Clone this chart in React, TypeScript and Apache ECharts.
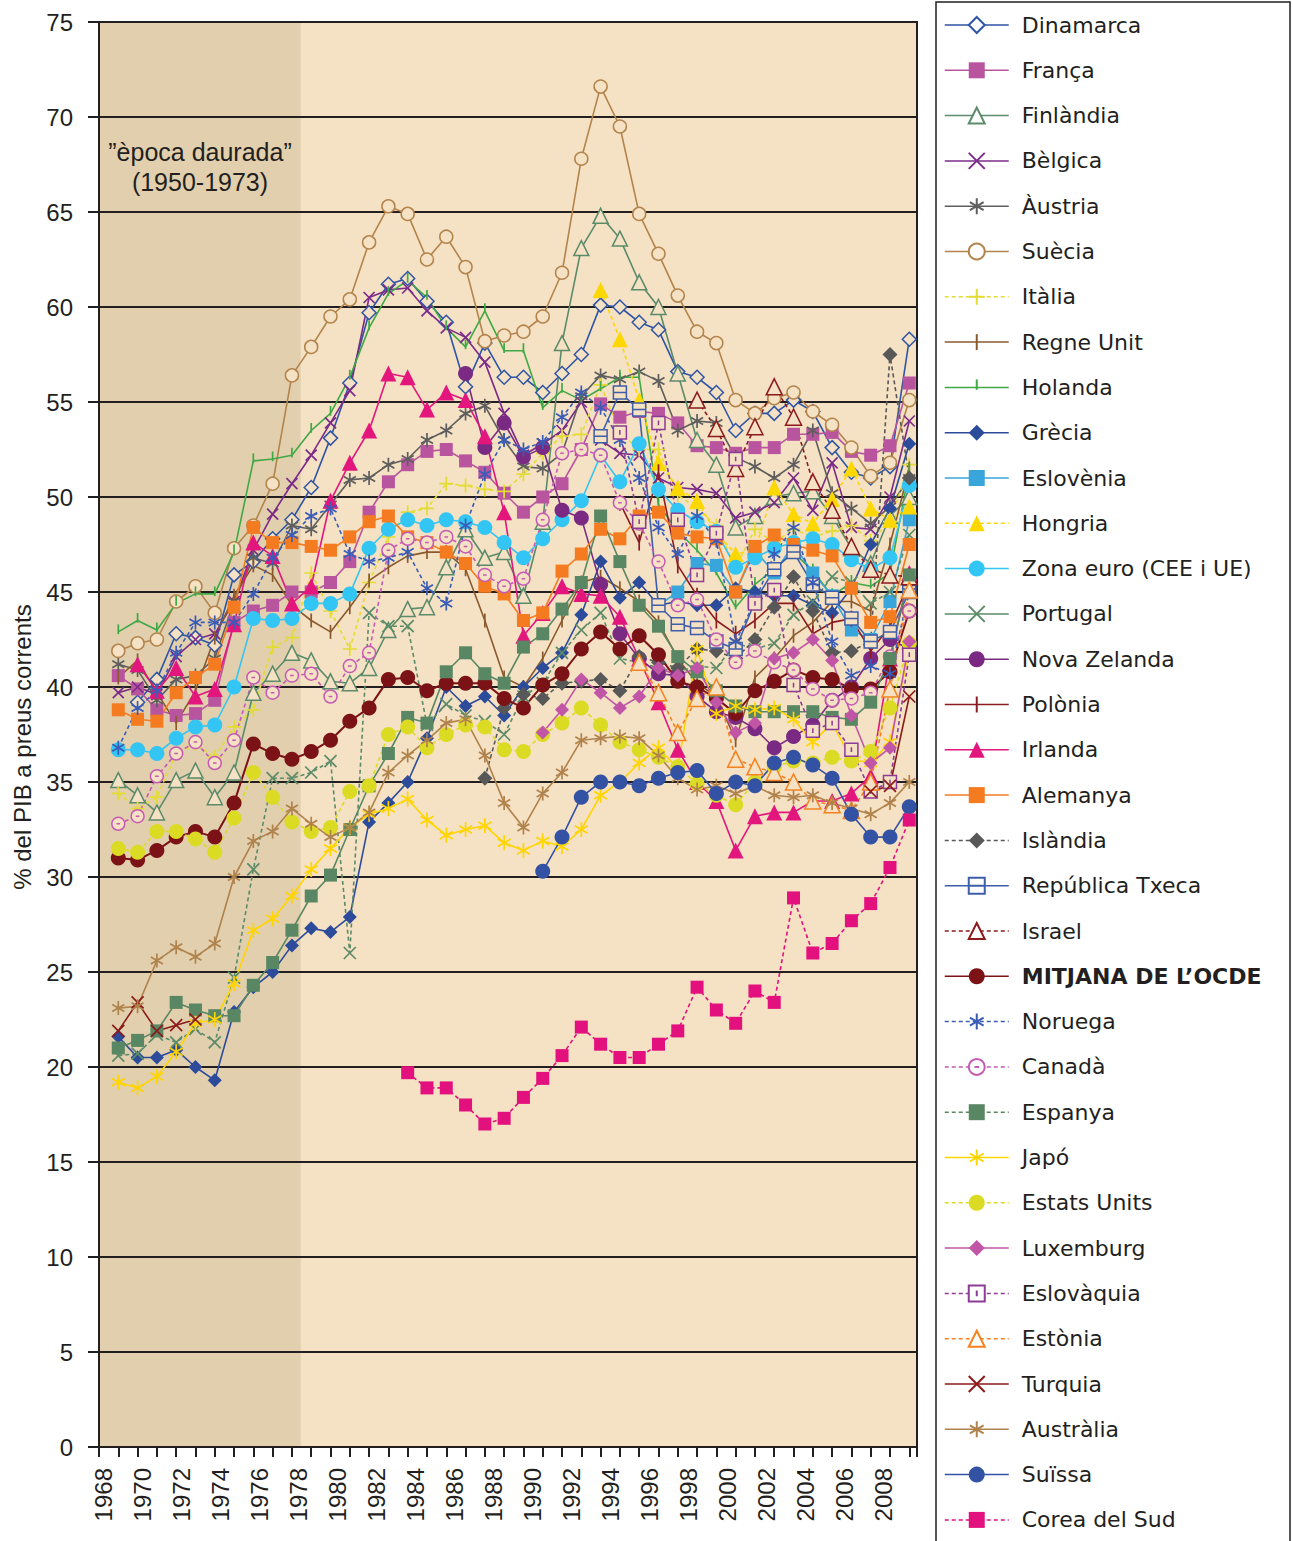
import React, { useEffect, useRef } from "react";
import * as echarts from "echarts";

// ---------- tick labels ----------
const xTickLabels = [1968, 1970, 1972, 1974, 1976, 1978, 1980, 1982, 1984, 1986, 1988, 1990, 1992, 1994, 1996, 1998, 2000, 2002, 2004, 2006, 2008];
const yTickLabels = [0, 5, 10, 15, 20, 25, 30, 35, 40, 45, 50, 55, 60, 65, 70, 75];

// ---------- data (% of GDP), one value per year from the start year ----------
const dinamarca = [39.2, 40.4, 42.8, 42.6, 42.2, 45.9, 46.6, 47.8, 48.8, 50.5, 53.1, 56.0, 59.7, 61.2, 61.5, 60.3, 59.2, 55.8, 58.1, 56.3, 56.3, 55.5, 56.5, 57.5, 60.1, 60.0, 59.2, 58.8, 56.6, 56.3, 55.5, 53.5, 54.4, 54.4, 55.1, 54.5, 52.6, 51.3, 51.0, 51.6, 58.3];
const franca = [40.6, 39.9, 38.8, 38.5, 38.6, 39.3, 43.4, 44.0, 44.3, 45.0, 45.0, 45.5, 46.6, 49.2, 50.8, 51.7, 52.4, 52.5, 51.9, 51.3, 50.2, 49.2, 50.0, 50.7, 52.5, 54.9, 54.2, 54.5, 54.4, 53.9, 52.7, 52.6, 52.3, 52.6, 52.6, 53.3, 53.3, 53.4, 52.4, 52.2, 52.7, 56.0];
const finlandia = [35.1, 34.3, 33.4, 35.1, 35.6, 34.2, 35.5, 39.7, 40.7, 41.8, 41.4, 40.3, 40.2, 41.0, 43.0, 44.1, 44.2, 46.3, 48.3, 46.8, 47.1, 44.8, 48.7, 58.1, 63.1, 64.8, 63.6, 61.3, 60.0, 56.5, 53.0, 51.7, 48.4, 49.0, 50.0, 50.2, 50.3, 49.0, 47.3, 46.5, 49.0, 50.0];
const belgica = [39.7, 40.0, 39.6, 41.6, 42.5, 42.8, 44.5, 47.2, 49.1, 50.7, 52.2, 53.9, 55.6, 60.5, 60.9, 61.0, 59.8, 58.9, 58.4, 57.1, 54.4, 52.2, 52.8, 53.5, 55.0, 53.0, 52.3, 52.2, 51.0, 50.5, 50.4, 50.2, 48.9, 49.2, 49.7, 51.0, 49.3, 51.8, 48.4, 48.3, 50.0, 54.0];
const austria = [41.2, 40.9, 39.3, 40.4, 40.6, 41.5, 44.5, 46.8, 46.5, 48.5, 48.3, 49.6, 50.9, 51.0, 51.7, 52.0, 53.0, 53.5, 54.4, 54.8, 53.0, 51.6, 51.5, 52.3, 55.3, 56.4, 56.2, 56.6, 56.1, 53.5, 54.0, 53.9, 52.1, 51.6, 51.0, 51.7, 53.5, 50.2, 49.4, 48.6, 49.5, 51.0];
const suecia = [41.9, 42.3, 42.5, 44.5, 45.3, 43.9, 47.3, 48.5, 50.7, 56.4, 57.9, 59.5, 60.4, 63.4, 65.3, 64.9, 62.5, 63.7, 62.1, 58.2, 58.5, 58.7, 59.5, 61.8, 67.8, 71.6, 69.5, 64.9, 62.8, 60.6, 58.7, 58.1, 55.1, 54.4, 55.2, 55.5, 54.5, 53.8, 52.6, 51.1, 51.8, 55.1];
const italia = [34.4, 33.6, 34.2, 36.5, 37.0, 36.3, 37.9, 38.8, 42.1, 42.6, 46.0, 44.0, 42.0, 45.5, 47.9, 49.2, 49.4, 50.7, 50.6, 50.4, 50.3, 51.2, 52.3, 53.2, 53.3, 55.9, 53.4, 52.5, 52.5, 50.1, 49.4, 48.5, 46.3, 48.3, 47.6, 48.3, 47.9, 48.2, 48.5, 47.7, 48.7, 51.7];
const regneUnit = [40.5, 41.4, 39.7, 38.1, 39.8, 42.6, 44.8, 46.4, 45.9, 44.3, 43.5, 42.9, 44.2, 45.6, 46.3, 46.9, 47.1, 47.1, 46.2, 43.5, 40.5, 40.0, 41.5, 43.5, 45.5, 45.8, 45.2, 44.5, 43.4, 41.5, 40.2, 39.5, 37.2, 40.5, 41.5, 42.7, 43.4, 44.5, 44.5, 44.0, 47.5, 51.5];
const holanda = [42.9, 43.5, 43.0, 44.4, 44.9, 44.9, 47.1, 51.9, 52.0, 52.2, 53.5, 54.4, 56.3, 58.9, 60.7, 61.4, 60.5, 58.9, 57.9, 59.8, 57.7, 57.7, 54.7, 55.6, 55.1, 55.7, 56.3, 56.3, 49.6, 48.2, 47.2, 46.0, 44.2, 45.4, 46.2, 47.1, 46.1, 44.8, 45.5, 45.3, 46.0, 51.4];
const grecia = [21.6, 20.5, 20.5, 20.9, 20.0, 19.3, 22.9, 24.2, 25.0, 26.4, 27.3, 27.1, 27.9, 32.9, 33.9, 35.0, 37.3, 40.0, 39.0, 39.5, 38.5, 40.0, 41.0, 41.8, 43.8, 46.6, 44.7, 45.5, 44.3, 44.5, 44.3, 44.3, 45.2, 45.0, 44.8, 44.8, 44.3, 43.9, 45.2, 47.5, 49.4, 52.8];
const eslovenia = [44.3, 45.0, 46.5, 46.4, 45.0, 47.2, 46.0, 47.5, 46.0, 44.8, 43.0, 42.5, 44.5, 48.8];
const hongria = [60.9, 58.3, 55.1, 51.8, 50.5, 49.8, 48.1, 47.0, 47.2, 50.5, 49.1, 48.6, 49.9, 51.5, 49.4, 48.8, 49.5];
const zonaEuro = [36.7, 36.7, 36.5, 37.3, 37.9, 38.0, 40.0, 43.6, 43.5, 43.6, 44.4, 44.4, 44.9, 47.3, 48.3, 48.8, 48.5, 48.8, 48.7, 48.4, 47.6, 46.8, 47.8, 48.8, 49.8, 52.2, 50.8, 52.8, 50.4, 49.3, 48.7, 48.2, 46.3, 46.8, 47.3, 47.6, 47.8, 47.5, 46.7, 46.2, 46.8, 50.6];
const portugal = [20.6, 20.7, 21.7, 21.3, 22.0, 21.3, 24.7, 30.4, 35.2, 35.2, 35.5, 36.1, 26.0, 43.9, 43.2, 43.2, 38.0, 39.1, 38.5, 38.2, 37.5, 39.5, 40.2, 41.8, 43.0, 43.9, 41.5, 41.3, 41.0, 40.8, 41.1, 41.0, 42.3, 42.0, 42.3, 43.8, 44.5, 45.8, 45.5, 44.4, 45.0, 48.0];
const novaZelanda = [56.5, 52.6, 53.9, 52.1, 52.6, 49.3, 48.9, 45.4, 42.8, 41.5, 40.7, 40.6, 39.5, 38.7, 38.4, 37.8, 36.8, 37.4, 38.0, 39.3, 40.0, 41.5, 42.5, 42.0];
const polonia = [49.7, 47.6, 51.3, 46.4, 44.8, 43.5, 42.8, 43.5, 44.4, 44.4, 42.8, 43.4, 43.6, 41.9, 43.2, 45.5];
const irlanda = [41.2, 39.8, 41.0, 39.5, 39.9, 43.3, 47.6, 46.9, 44.4, 45.3, 49.8, 51.8, 53.5, 56.5, 56.3, 54.6, 55.5, 55.1, 53.2, 49.2, 42.7, 43.9, 45.3, 44.9, 44.8, 43.7, 41.5, 39.2, 36.7, 35.0, 34.0, 31.4, 33.2, 33.4, 33.4, 34.0, 34.0, 34.4, 35.3, 41.5, 46.0];
const alemanya = [38.8, 38.3, 38.2, 39.7, 40.5, 41.2, 44.2, 48.4, 47.6, 47.6, 47.4, 47.2, 47.9, 48.7, 49.0, 47.9, 47.6, 47.1, 46.5, 45.3, 44.9, 43.5, 43.9, 46.1, 47.0, 48.3, 47.8, 49.0, 49.2, 48.1, 47.9, 47.8, 45.0, 47.4, 48.0, 47.5, 47.2, 46.9, 45.2, 43.4, 43.7, 47.5];
const islandia = [35.2, 38.9, 39.6, 39.4, 40.2, 40.3, 40.4, 39.8, 41.6, 41.3, 41.0, 42.0, 41.9, 41.5, 42.5, 44.2, 45.8, 44.0, 41.8, 41.9, 42.4, 57.5, 51.0];
const repTxeca = [53.2, 55.5, 54.6, 44.3, 43.3, 43.1, 42.4, 42.0, 44.5, 46.2, 47.1, 45.4, 44.7, 43.6, 42.4, 42.9, 45.0];
const israel = [55.1, 53.6, 51.5, 53.7, 55.8, 54.2, 50.8, 49.3, 47.4, 46.2, 45.9, 45.8];
const ocde = [31.0, 30.9, 31.4, 32.1, 32.4, 32.1, 33.9, 37.0, 36.5, 36.2, 36.6, 37.2, 38.2, 38.9, 40.4, 40.5, 39.8, 40.2, 40.2, 40.2, 39.4, 38.9, 40.1, 40.7, 42.0, 42.9, 42.0, 42.7, 41.7, 40.3, 40.0, 39.4, 38.6, 39.8, 40.3, 40.9, 40.5, 40.4, 39.9, 39.9, 40.8, 44.0];
const noruega = [36.8, 38.9, 39.8, 41.8, 43.4, 43.4, 43.4, 44.9, 46.8, 48.0, 49.0, 49.4, 47.0, 46.6, 46.8, 47.1, 45.2, 44.4, 48.5, 51.2, 53.0, 52.5, 52.9, 54.2, 55.5, 54.7, 53.0, 51.0, 48.4, 47.0, 49.0, 47.7, 42.4, 44.5, 47.0, 48.4, 45.5, 42.4, 40.6, 41.1, 40.7, 45.0];
const canada = [32.8, 33.2, 35.3, 36.5, 37.1, 36.0, 37.2, 40.5, 39.7, 40.6, 40.7, 39.5, 41.1, 41.8, 47.2, 47.8, 47.6, 47.9, 47.4, 45.9, 45.3, 45.7, 48.8, 52.3, 52.5, 52.2, 49.7, 48.6, 46.6, 44.3, 44.6, 42.5, 41.3, 41.9, 41.3, 40.9, 39.9, 39.3, 39.4, 39.7, 41.6, 44.0];
const espanya = [21.0, 21.4, 21.9, 23.4, 23.0, 22.7, 22.7, 24.3, 25.5, 27.2, 29.0, 30.1, 32.5, 34.8, 36.5, 38.4, 38.1, 40.8, 41.8, 40.7, 40.2, 42.1, 42.8, 44.1, 45.5, 49.0, 46.6, 44.3, 43.2, 41.6, 40.8, 39.8, 39.0, 38.7, 38.7, 38.7, 38.7, 38.4, 38.3, 39.2, 41.5, 45.9];
const japo = [19.2, 18.9, 19.5, 20.8, 22.3, 22.5, 24.4, 27.2, 27.8, 29.0, 30.4, 31.5, 32.6, 33.3, 33.6, 34.1, 33.0, 32.2, 32.5, 32.7, 31.8, 31.4, 31.9, 31.6, 32.5, 34.3, 35.0, 36.0, 36.8, 35.7, 42.0, 38.6, 39.0, 38.8, 38.9, 38.3, 37.1, 38.1, 36.2, 36.0, 37.1, 42.0];
const estatsUnits = [31.5, 31.3, 32.4, 32.4, 32.0, 31.3, 33.1, 35.5, 34.2, 32.9, 32.4, 32.6, 34.5, 34.8, 37.5, 37.9, 36.8, 37.5, 38.0, 37.9, 36.7, 36.6, 37.5, 38.1, 38.9, 38.0, 37.1, 36.7, 36.3, 35.8, 34.9, 34.3, 33.8, 35.0, 35.8, 36.1, 36.0, 36.3, 36.1, 36.6, 38.9, 42.3];
const luxemburg = [37.6, 38.8, 40.4, 39.7, 38.9, 39.5, 41.0, 40.6, 41.0, 39.2, 37.6, 38.1, 41.5, 41.8, 42.5, 41.4, 38.5, 36.0, 36.8, 42.4];
const eslovaquia = [53.4, 48.7, 53.9, 48.8, 45.9, 48.1, 52.0, 44.4, 45.1, 40.1, 37.7, 38.1, 36.7, 34.5, 35.0, 41.7];
const estonia = [41.3, 39.7, 37.6, 39.4, 40.0, 36.2, 35.8, 35.5, 35.0, 34.0, 33.8, 33.5, 35.0, 39.9, 45.1];
const turquia1969 = [21.9, 23.4, 21.9, 22.2, 22.5];
const turquia2008 = [34.5, 34.8, 39.5];
const australia = [23.1, 23.2, 25.6, 26.3, 25.8, 26.5, 30.0, 31.9, 32.4, 33.6, 32.8, 32.1, 32.6, 33.4, 35.5, 36.4, 37.2, 38.1, 38.3, 36.4, 33.9, 32.6, 34.4, 35.5, 37.2, 37.3, 37.4, 37.3, 36.4, 35.2, 34.6, 34.8, 34.4, 34.8, 34.3, 34.2, 34.3, 33.9, 33.6, 33.3, 33.9, 35.0];
const suissa = [30.3, 32.1, 34.2, 35.0, 35.0, 34.8, 35.2, 35.5, 35.6, 34.4, 35.0, 34.8, 36.0, 36.3, 35.9, 35.2, 33.3, 32.1, 32.1, 33.7];
const corea = [19.7, 18.9, 18.9, 18.0, 17.0, 17.3, 18.4, 19.4, 20.6, 22.1, 21.2, 20.5, 20.5, 21.2, 21.9, 24.2, 23.0, 22.3, 24.0, 23.4, 28.9, 26.0, 26.5, 27.7, 28.6, 30.5, 33.0];

// ---------- styles ----------
const INK = "#231F20";
const PLOT_BG = "#F5E1C3";
const GOLD_BG = "#E2CFAE";
const FONT = '"Liberation Sans", Arial, Helvetica, sans-serif';
const LEGEND_FONT = '"DejaVu Sans", "Liberation Sans", sans-serif';
const OCDE_NAME = "MITJANA DE L\u2019OCDE";

const SYM = {
  cross: "path://M0,0L10,10M10,0L0,10",
  asterisk: "path://M5,0L5,10M0.7,2.5L9.3,7.5M0.7,7.5L9.3,2.5M0,5L0,5M10,5L10,5",
  plus: "path://M5,0L5,10M0,5L10,5",
  tick: "path://M5,0L5,10M0,5L0,5M10,5L10,5",
  tickUp: "path://M5,0L5,6.5M0,0L0,0M10,10L10,10",
  boxLine: "path://M0,0L10,0L10,10L0,10ZM0,5L10,5",
  boxDot: "path://M0,0L10,0L10,10L0,10ZM5,3.2L5,6.8",
  circleDot: "path://M10,5A5,5,0,1,1,0,5A5,5,0,1,1,10,5ZM3.6,5L6.4,5",
};

type Spec = {
  name: string; start: number; values: (number | null)[]; color: string; symbol: string;
  kind: "filled" | "hollow" | "stroke"; size: number; dash: boolean; legendDash?: boolean; width?: number;
  start2?: number; values2?: number[];
};

const SPECS: Spec[] = [
  { name: "Dinamarca", start: 1970, values: dinamarca, color: "#2F55A4", symbol: "diamond", kind: "hollow", size: 14, dash: false },
  { name: "França", start: 1969, values: franca, color: "#B9559F", symbol: "rect", kind: "filled", size: 13, dash: false },
  { name: "Finlàndia", start: 1969, values: finlandia, color: "#5B8B6B", symbol: "triangle", kind: "hollow", size: 15, dash: false },
  { name: "Bèlgica", start: 1969, values: belgica, color: "#7B2B88", symbol: SYM.cross, kind: "stroke", size: 11, dash: false },
  { name: "Àustria", start: 1969, values: austria, color: "#5E5E5E", symbol: SYM.asterisk, kind: "stroke", size: 14, dash: false },
  { name: "Suècia", start: 1969, values: suecia, color: "#B3844C", symbol: "circle", kind: "hollow", size: 13, dash: false },
  { name: "Itàlia", start: 1969, values: italia, color: "#E3DC34", symbol: SYM.plus, kind: "stroke", size: 14, dash: true },
  { name: "Regne Unit", start: 1969, values: regneUnit, color: "#8A5A2E", symbol: SYM.tick, kind: "stroke", size: 14, dash: false },
  { name: "Holanda", start: 1969, values: holanda, color: "#3FA946", symbol: SYM.tickUp, kind: "stroke", size: 15, dash: false },
  { name: "Grècia", start: 1969, values: grecia, color: "#2C4B9B", symbol: "diamond", kind: "filled", size: 14, dash: false },
  { name: "Eslovènia", start: 1997, values: eslovenia, color: "#39A6DB", symbol: "rect", kind: "filled", size: 13, dash: false },
  { name: "Hongria", start: 1994, values: hongria, color: "#FDD800", symbol: "triangle", kind: "filled", size: 16, dash: true },
  { name: "Zona euro (CEE i UE)", start: 1969, values: zonaEuro, color: "#33C5F3", symbol: "circle", kind: "filled", size: 15, dash: false },
  { name: "Portugal", start: 1969, values: portugal, color: "#5B8B68", symbol: SYM.cross, kind: "stroke", size: 12, dash: true, legendDash: false },
  { name: "Nova Zelanda", start: 1987, values: novaZelanda, color: "#7A2A82", symbol: "circle", kind: "filled", size: 15, dash: false },
  { name: "Polònia", start: 1995, values: polonia, color: "#8B1C22", symbol: SYM.tick, kind: "stroke", size: 16, dash: false },
  { name: "Irlanda", start: 1970, values: irlanda, color: "#E2167D", symbol: "triangle", kind: "filled", size: 16, dash: false },
  { name: "Alemanya", start: 1969, values: alemanya, color: "#F47B20", symbol: "rect", kind: "filled", size: 13, dash: false },
  { name: "Islàndia", start: 1988, values: islandia, color: "#585858", symbol: "diamond", kind: "filled", size: 15, dash: true },
  { name: "República Txeca", start: 1994, values: repTxeca, color: "#3F5EAA", symbol: SYM.boxLine, kind: "hollow", size: 13, dash: false },
  { name: "Israel", start: 1999, values: israel, color: "#8B1A1C", symbol: "triangle", kind: "hollow", size: 16, dash: true },
  { name: OCDE_NAME, start: 1969, values: ocde, color: "#7B1216", symbol: "circle", kind: "filled", size: 15, dash: false, width: 2 },
  { name: "Noruega", start: 1969, values: noruega, color: "#3B5CB6", symbol: SYM.asterisk, kind: "stroke", size: 14, dash: true },
  { name: "Canadà", start: 1969, values: canada, color: "#C55AB4", symbol: SYM.circleDot, kind: "hollow", size: 13, dash: true },
  { name: "Espanya", start: 1969, values: espanya, color: "#5A8763", symbol: "rect", kind: "filled", size: 13, dash: false, legendDash: true },
  { name: "Japó", start: 1969, values: japo, color: "#FFD500", symbol: SYM.asterisk, kind: "stroke", size: 15, dash: false },
  { name: "Estats Units", start: 1969, values: estatsUnits, color: "#DCDB23", symbol: "circle", kind: "filled", size: 15, dash: true },
  { name: "Luxemburg", start: 1991, values: luxemburg, color: "#C156A6", symbol: "diamond", kind: "filled", size: 14, dash: false },
  { name: "Eslovàquia", start: 1995, values: eslovaquia, color: "#8C3B96", symbol: SYM.boxDot, kind: "hollow", size: 13, dash: true },
  { name: "Estònia", start: 1996, values: estonia, color: "#F5821F", symbol: "triangle", kind: "hollow", size: 16, dash: true },
  { name: "Turquia", start: 1969, values: turquia1969, start2: 2008, values2: turquia2008, color: "#8B1A1A", symbol: SYM.cross, kind: "stroke", size: 12, dash: false },
  { name: "Austràlia", start: 1969, values: australia, color: "#B0824C", symbol: SYM.asterisk, kind: "stroke", size: 14, dash: false },
  { name: "Suïssa", start: 1991, values: suissa, color: "#3452A4", symbol: "circle", kind: "filled", size: 15, dash: false },
  { name: "Corea del Sud", start: 1984, values: corea, color: "#E3117E", symbol: "rect", kind: "filled", size: 13, dash: true },
];

const DASH = [4, 3];

function buildData(s: Spec) {
  const out: (number | null)[][] = s.values.map((v, i) => [s.start + i, v]);
  if (s.values2 && s.start2) {
    out.push([s.start + s.values.length, null]);
    s.values2.forEach((v, i) => out.push([s.start2! + i, v]));
  }
  return out;
}

function itemStyleOf(s: Spec) {
  if (s.kind === "hollow") return { color: PLOT_BG, borderColor: s.color, borderWidth: 1.5 };
  if (s.kind === "stroke") return { color: s.color, borderColor: s.color, borderWidth: 1.7 };
  return { color: s.color };
}

const dataSeries = SPECS.map((s) => ({
  type: "line",
  name: s.name,
  data: buildData(s),
  symbol: s.symbol,
  symbolSize: s.size,
  showSymbol: true,
  connectNulls: false,
  silent: true,
  z: 3,
  lineStyle: { color: s.color, width: s.width || 1.6, type: s.dash ? DASH : "solid" },
  itemStyle: itemStyleOf(s),
  emphasis: { disabled: true },
}));

const areaSeries = {
  type: "line",
  data: [],
  silent: true,
  markArea: {
    silent: true,
    itemStyle: { color: GOLD_BG },
    data: [[{ xAxis: 1968 }, { xAxis: 1978.45 }]],
  },
};

const legendData = SPECS.map((s) => {
  const item: any = { name: s.name };
  if (s.kind === "hollow") item.itemStyle = { color: "#ffffff" };
  if (s.legendDash !== undefined) item.lineStyle = { type: s.legendDash ? DASH : "solid" };
  return item;
});

// label axis: labels are spaced 19.5 px per year starting 4 px right of the plot edge
const LABEL_MIN = 1968 - 4 / 19.5;
const LABEL_MAX = LABEL_MIN + 818 / 19.5;

const option: any = {
  animation: false,
  backgroundColor: "#ffffff",
  grid: { left: 99, top: 22, width: 818, height: 1425, show: true, backgroundColor: PLOT_BG, borderColor: INK, borderWidth: 2 },
  xAxis: [
    {
      type: "value", min: 1968, max: 2010.4, interval: 1, z: 2,
      axisLine: { show: true, onZero: false, lineStyle: { color: INK, width: 2 } },
      axisTick: { show: true, length: 10, lineStyle: { color: INK, width: 2 } },
      axisLabel: { show: false },
      splitLine: { show: false },
    },
    {
      type: "value", min: LABEL_MIN, max: LABEL_MAX, position: "bottom", z: 2,
      axisLine: { show: false }, axisTick: { show: false }, splitLine: { show: false },
      axisLabel: {
        show: true, customValues: xTickLabels, rotate: 90, margin: 21,
        fontSize: 24, fontFamily: FONT, color: INK,
        formatter: (v: number) => String(Math.round(v)),
      },
    },
  ],
  yAxis: {
    type: "value", min: yTickLabels[0], max: yTickLabels[yTickLabels.length - 1], interval: 5, z: 2,
    axisLine: { show: true, lineStyle: { color: INK, width: 2 } },
    axisTick: { show: true, length: 11, lineStyle: { color: INK, width: 2 } },
    axisLabel: { margin: 26, fontSize: 24, fontFamily: FONT, color: INK },
    splitLine: { show: true, lineStyle: { color: INK, width: 2 } },
  },
  legend: {
    orient: "vertical", left: 944, top: 14, padding: 0,
    itemWidth: 64, itemHeight: 20, itemGap: 23.3, selectedMode: false,
    lineStyle: { width: 1.5 },
    textStyle: {
      fontFamily: LEGEND_FONT, fontSize: 22, color: INK, lineHeight: 22, padding: [0, 0, 0, 8],
      rich: { b: { fontFamily: LEGEND_FONT, fontSize: 22, fontWeight: "bold", color: INK, lineHeight: 22 } },
    },
    formatter: (name: string) => (name === OCDE_NAME ? "{b|" + name + "}" : name),
    data: legendData,
  },
  graphic: [
    { type: "rect", silent: true, shape: { x: 936, y: 2, width: 354, height: 1580 }, style: { fill: "none", stroke: INK, lineWidth: 1.5 } },
    {
      type: "text", silent: true, x: 200, y: 167, z: 10,
      style: { text: "\u201Dèpoca daurada\u201D\n(1950-1973)", fontSize: 25, fontFamily: FONT, fill: INK, align: "center", verticalAlign: "middle", lineHeight: 30 },
    },
    {
      type: "text", silent: true, x: 22, y: 747, rotation: Math.PI / 2, z: 10,
      style: { text: "% del PIB a preus corrents", fontSize: 24, fontFamily: FONT, fill: INK, align: "center", verticalAlign: "middle" },
    },
  ],
  series: [areaSeries, ...dataSeries],
};

export default function App() {
  const ref = useRef<HTMLDivElement>(null);
  useEffect(() => {
    const chart = echarts.init(ref.current as HTMLDivElement, null, { renderer: "svg" });
    chart.setOption(option);
    return () => chart.dispose();
  }, []);
  return <div ref={ref} style={{ position: "absolute", left: 0, top: 0, width: 1293, height: 1541, background: "#fff" }} />;
}
